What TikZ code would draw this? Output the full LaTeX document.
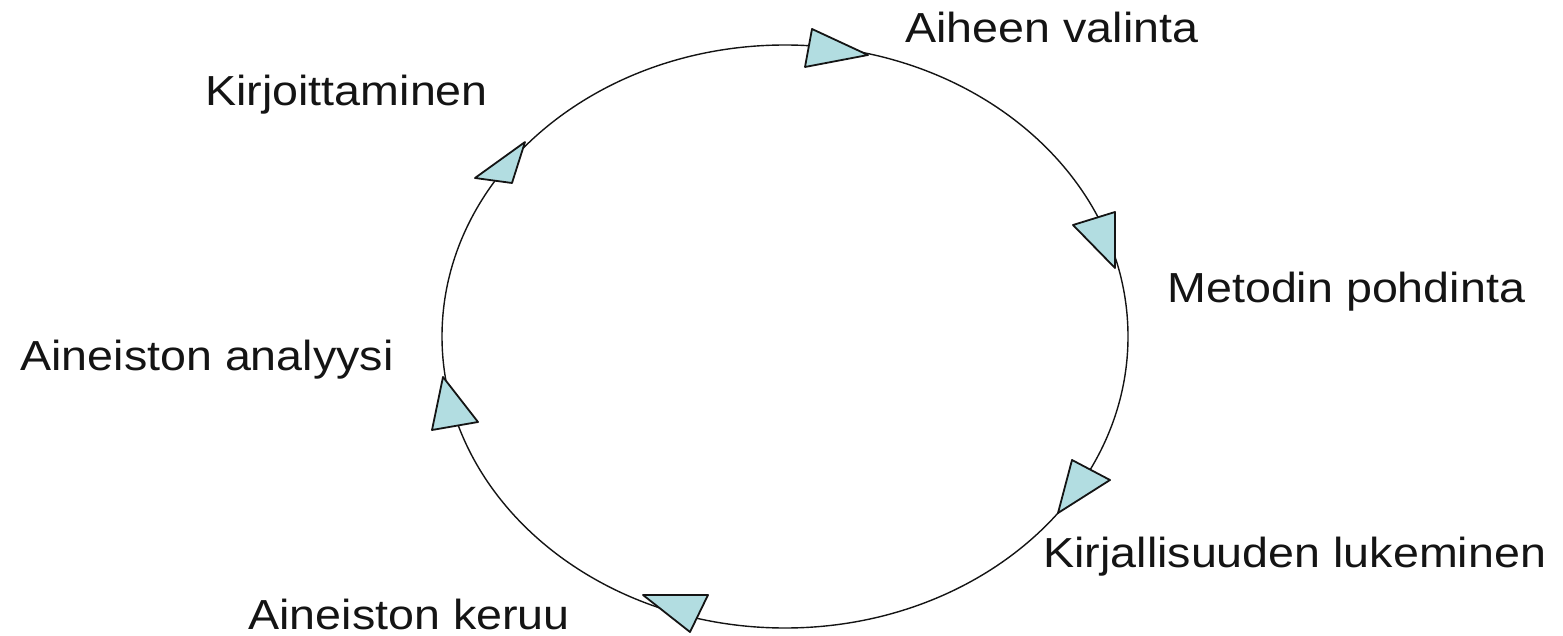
\documentclass[tikz,border=0pt]{standalone}
\usepackage{fontspec}
\setmainfont{Liberation Sans}
\definecolor{tri}{RGB}{178,221,225}
\definecolor{ink}{RGB}{20,20,20}
\tikzset{
  lbl/.style={anchor=base west,inner sep=0pt,font=\fontsize{21}{25}\selectfont,text=ink},
  arrowtri/.style={fill=tri,draw=ink,line width=0.9pt,line join=round},
  ring/.style={draw=ink,line width=0.7pt}
}
\newcommand{\sx}[1]{\scalebox{1.11}[1]{#1}}
\begin{document}
\begin{tikzpicture}[x=0.5pt,y=-0.5pt]
\useasboundingbox (0,0) rectangle (1563,636);
\draw[ring] (785,336.5) ellipse [x radius=343, y radius=291.5];
% direction markers
\draw[arrowtri] (812,29) -- (805,67) -- (868,55) -- cycle;
\draw[arrowtri] (1073,225) -- (1115,212) -- (1115,268) -- cycle;
\draw[arrowtri] (1072,460) -- (1110,480) -- (1058,513) -- cycle;
\draw[arrowtri] (643,595) -- (708,595) -- (690,632) -- cycle;
\draw[arrowtri] (443,377) -- (432,430) -- (478,422) -- cycle;
\draw[arrowtri] (525,142) -- (475,178) -- (512,183) -- cycle;
% labels
\node[lbl] (aihe) at (905,43) {\sx{Aiheen valinta}};
\node[lbl] (meto) at (1167,302) {\sx{Metodin pohdinta}};
\node[lbl] (kirj) at (1043,567) {\sx{Kirjallisuuden lukeminen}};
\node[lbl] (keru) at (248,629) {\sx{Aineiston keruu}};
\node[lbl] (anal) at (20,370) {\sx{Aineiston analyysi}};
\node[lbl] (kirjo) at (205,106) {\sx{Kirjoittaminen}};
\end{tikzpicture}
\end{document}
